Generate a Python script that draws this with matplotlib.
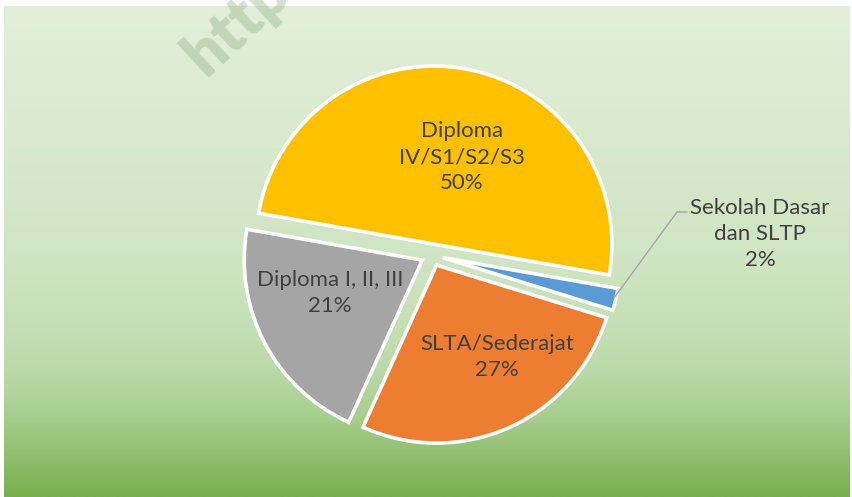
import numpy as np
import matplotlib
matplotlib.use('Agg')
import matplotlib.pyplot as plt
from matplotlib.colors import LinearSegmentedColormap

# Data (order follows the slices counter-clockwise from the right)
categories = ['Diploma\nIV/S1/S2/S3', 'Diploma I, II, III', 'SLTA/Sederajat', 'Sekolah Dasar\ndan SLTP']
shares = [50, 21, 27, 2]
colors = ['#FFC000', '#A5A5A5', '#ED7D31', '#5B9BD5']

W, H = 853, 497

fig = plt.figure(figsize=(W / 100, H / 100), dpi=100)
ax = fig.add_axes([0, 0, 1, 1])
ax.set_xlim(0, W)
ax.set_ylim(0, H)
ax.set_aspect('equal')
ax.axis('off')

# Gradient chart area (light to green, top to bottom)
grad = LinearSegmentedColormap.from_list('bg', [
    (0.0, (227/255, 239/255, 218/255)),
    (0.55, (206/255, 228/255, 193/255)),
    (0.74, (187/255, 218/255, 170/255)),
    (0.84, (166/255, 206/255, 141/255)),
    (1.0, (121/255, 175/255, 78/255)),
])
g = np.linspace(0, 1, 400).reshape(-1, 1)
ax.imshow(g, cmap=grad, aspect='auto', extent=(4, 850, 0, H - 6),
          origin='upper', zorder=0)

# Watermark (runs off the top edge, as in the source)
ax.text(206, H - 78, 'http://', fontsize=45, fontweight='heavy', rotation=43,
        rotation_mode='anchor', color=(0.55, 0.65, 0.5), alpha=0.35,
        family=['Lato', 'DejaVu Sans'], ha='left', va='baseline', zorder=5,
        clip_on=True)

# Pie (exploded by a few pixels, white borders)
cx, cy, r = 432, H - 255, 178
wedges, _ = ax.pie(shares, colors=colors, startangle=-10, counterclock=True,
                   center=(cx, cy), radius=r, explode=[r * 0.062] * 4,
                   wedgeprops=dict(edgecolor='white', linewidth=2.6))
for w in wedges:
    w.set_zorder(2)

ax.set_xlim(0, W)
ax.set_ylim(0, H)

# Data labels (pixel positions of each label block centre)
label_pos = [(462, 157), (330, 293), (497, 357), (760, 234)]
txt_kw = dict(family=['Lato', 'DejaVu Sans'], fontsize=16, color='#404040',
              ha='center', va='center', linespacing=1.38, zorder=6)
for cat, val, (px, py) in zip(categories, shares, label_pos):
    ax.text(px, H - py, cat + '\n' + str(val) + '%', **txt_kw)

# Leader line for the small slice
ax.plot([687, 677, 614], [H - 212, H - 212, H - 298], color='#A6A6A6',
        lw=1.0, zorder=4)

fig.savefig('out.png', dpi=100, facecolor='white')
